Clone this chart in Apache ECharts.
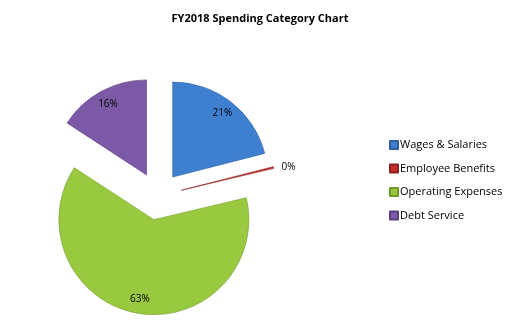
<!DOCTYPE html>
<html><head><meta charset="utf-8">
<script src="https://cdn.jsdelivr.net/npm/echarts@6/dist/echarts.min.js"></script>
<style>html,body{margin:0;padding:0;background:#fff}#c{width:520px;height:333px}</style>
</head><body><div id="c"></div>
<script>
const titleText = 'FY2018 Spending Category Chart';
const categories = ['Wages & Salaries', 'Employee Benefits', 'Operating Expenses', 'Debt Service'];
const values = [21.0, 0.3, 62.9, 15.8];
const colors = ['#3F7FD0', '#C0302F', '#99C93F', '#7D5AA8'];
const borders = ['#2E5F9E', '#8E2220', '#6F9A2A', '#5A3F80'];

const chart = echarts.init(document.getElementById('c'), null, {renderer: 'canvas'});
const pct = p => Math.round(p.percent) + '%';
const center = [158, 196];
const mainData = categories.map((n, i) => ({
  name: n, value: values[i], selected: true,
  itemStyle: {color: colors[i], borderColor: borders[i], borderWidth: 0.6},
  label: i === 1 ? {show: true, position: 'outside'} : {show: false}
}));
const labelData = categories.map((n, i) => ({
  name: n, value: values[i], selected: true,
  label: {show: i !== 1}
}));
chart.setOption({
  animation: false,
  title: {text: titleText, left: 'center', top: 8,
    textStyle: {fontFamily: 'Open Sans', fontSize: 11, fontWeight: 'bold', color: '#000'}},
  legend: {
    orient: 'vertical', left: 389, top: 138, padding: 0, itemWidth: 8, itemHeight: 8, itemGap: 9.5,
    icon: 'rect', selectedMode: false,
    textStyle: {fontFamily: 'Open Sans', fontSize: 11, color: '#000', padding: [0, 0, 0, -3], lineHeight: 14},
    data: categories
  },
  series: [{
    type: 'pie', center: center, radius: [0, 95], startAngle: 90, clockwise: true,
    selectedMode: 'multiple', selectedOffset: 24, silent: true,
    label: {formatter: pct, fontFamily: 'Open Sans', fontSize: 10, color: '#000'},
    labelLine: {show: false, length: 3, length2: 0},
    data: mainData
  }, {
    type: 'pie', center: center, radius: [0, 156], startAngle: 90, clockwise: true,
    selectedMode: 'multiple', selectedOffset: 24, silent: true,
    itemStyle: {color: 'rgba(0,0,0,0)'},
    label: {position: 'inside', formatter: pct, fontFamily: 'Open Sans', fontSize: 10, color: '#000'},
    labelLine: {show: false},
    data: labelData
  }]
});
</script></body></html>
